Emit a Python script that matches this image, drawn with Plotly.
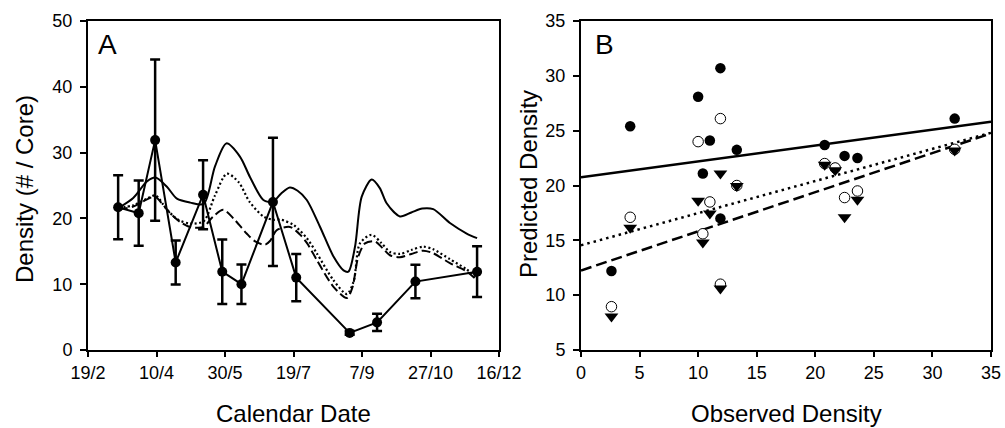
import pandas as pd
import plotly.graph_objects as go

# ---------------- data ----------------
season_start = "2007-02-19"
season_end = "2007-12-16"

# Panel A: observed densities (mean ± SE) on sampling dates
sample_dates = ["2007-03-13", "2007-03-28", "2007-04-09", "2007-04-24", "2007-05-14",
                "2007-05-28", "2007-06-11", "2007-07-04", "2007-07-21", "2007-08-29",
                "2007-09-18", "2007-10-16", "2007-11-30"]
observed = [21.7, 20.8, 31.9, 13.3, 23.6, 11.9, 10.0, 22.5, 11.0, 2.6, 4.2, 10.4, 11.9]
observed_se = [4.85, 4.95, 12.25, 3.35, 5.25, 4.9, 3.0, 9.75, 3.6, 0.3, 1.3, 2.55, 3.85]

# Panel A: model curves (day offset from 19/2, density)
solid_days = [22.4, 33, 43, 49.3, 57.6, 64.9, 74.6, 84.5, 92.7, 101, 110.9, 118.2, 128, 134.8, 141, 147.3,
              153, 159.7, 169.4, 179.2, 186.5, 190.1, 194.9, 199.8, 207.1, 213, 218, 227.7, 236, 244, 252,
              264.2, 276.4, 284]
solid_vals = [21.6, 23.1, 25.6, 26.2, 24.8, 23.0, 22.4, 22.2, 27.9, 31.4, 29.4, 26.3, 22.8, 22.5, 23.8, 24.7,
              24.2, 22.8, 18.7, 14.2, 12.1, 11.9, 15.7, 23.3, 25.9, 24.6, 22.3, 20.3, 20.9, 21.5, 21.4,
              19.3, 17.7, 17.0]

dotted_days = [22.4, 33, 43, 49.3, 57, 65, 74.6, 84.5, 92.7, 101.4, 110, 118, 128, 135, 141, 150,
               159.7, 167, 179.2, 189, 194, 198.5, 207, 214, 220.4, 227.7, 236, 244.7, 252, 264.2, 276, 284]
dotted_vals = [21.6, 22.0, 23.0, 23.5, 21.5, 19.9, 19.2, 19.6, 23.5, 26.8, 25.5, 22.5, 20.3, 19.8, 19.8, 19.0,
               17.0, 14.7, 10.6, 8.5, 10.5, 16.2, 17.5, 16.3, 14.9, 14.6, 15.2, 15.7, 15.3, 13.8, 12.3, 11.0]

dashed_days = [22.4, 33, 43, 49, 55, 60, 67, 74.5, 84.2, 91, 98.8, 107, 115.8, 122, 129.2, 133, 137.7,
               147.4, 155, 160, 167, 179.2, 189, 193, 197.3, 202.2, 209.5, 215, 220.4, 227.7, 236, 244.7,
               252, 264.2, 276, 284]
dashed_vals = [21.4, 21.8, 22.9, 23.3, 22.0, 20.8, 19.5, 18.7, 18.7, 20.2, 21.3, 19.8, 17.7, 16.5, 16.0, 16.6,
               18.2, 18.7, 17.5, 16.2, 13.7, 9.6, 7.9, 9.5, 14.2, 16.2, 16.5, 15.5, 14.4, 14.1, 14.6, 15.1,
               14.7, 13.2, 12.0, 10.6]

# Panel B: predicted density at each sampling date, per model
pred_model1 = [21.6, 23.7, 26.1, 23.25, 22.5, 30.7, 28.1, 22.7, 24.1, 12.2, 25.4, 21.1, 17.0]   # filled circles
pred_model2 = [21.6, 22.0, 23.3, 20.0, 19.5, 26.1, 24.0, 18.9, 18.5, 8.95, 17.1, 15.6, 11.0]   # open circles
pred_model3 = [21.4, 21.9, 23.2, 19.95, 18.7, 21.1, 18.6, 17.1, 17.45, 8.05, 16.15, 14.8, 10.6]  # triangles

fit_x = [0, 35]
fit_intercepts = [20.75, 14.55, 12.25]
fit_slopes = [0.145, 0.293, 0.357]


def to_dates(days):
    return pd.Timestamp(season_start) + pd.to_timedelta(days, unit="D")


# ---------------- figure ----------------
W, H = 1005, 428
FONT = "Liberation Sans, Arial, sans-serif"
fig = go.Figure()

# Panel A: model curves
curve_defs = [(solid_days, solid_vals, dict(color="black", width=2, dash="solid")),
              (dotted_days, dotted_vals, dict(color="black", width=2.2, dash="2px,2.5px")),
              (dashed_days, dashed_vals, dict(color="black", width=2, dash="9px,4px"))]
for days, vals, st in curve_defs:
    fig.add_trace(go.Scatter(x=to_dates(days), y=vals, mode="lines",
                             line=dict(shape="spline", smoothing=0.8, **st),
                             xaxis="x", yaxis="y", hoverinfo="skip"))

# Panel A: observed
fig.add_trace(go.Scatter(x=sample_dates, y=observed, mode="lines+markers",
                         line=dict(color="black", width=2),
                         marker=dict(color="black", size=10),
                         error_y=dict(type="data", array=observed_se, color="black", thickness=2.5, width=5),
                         xaxis="x", yaxis="y"))

# Panel B: fit lines
fit_styles = [dict(color="black", width=2.5, dash="solid"),
              dict(color="black", width=2.5, dash="2.5px,4px"),
              dict(color="black", width=2.5, dash="11px,5px")]
for b0, b1, st in zip(fit_intercepts, fit_slopes, fit_styles):
    fig.add_trace(go.Scatter(x=fit_x, y=[b0 + b1 * v for v in fit_x], mode="lines", line=st,
                             xaxis="x2", yaxis="y2", hoverinfo="skip"))

# Panel B: points
fig.add_trace(go.Scatter(x=observed, y=pred_model1, mode="markers",
                         marker=dict(symbol="circle", size=10.5, color="black"), xaxis="x2", yaxis="y2"))
fig.add_trace(go.Scatter(x=observed, y=pred_model2, mode="markers",
                         marker=dict(symbol="circle", size=10.5, color="white", line=dict(color="black", width=1)),
                         xaxis="x2", yaxis="y2"))
fig.add_trace(go.Scatter(x=observed, y=pred_model3, mode="markers",
                         marker=dict(symbol="triangle-down", size=12, color="black"), xaxis="x2", yaxis="y2"))

ydom = [78 / H, 407 / H]
axis_common = dict(showline=True, linecolor="black", linewidth=2, mirror=True, showgrid=False, zeroline=False,
                   ticks="outside", tickcolor="black", tickwidth=1.5, automargin=False,
                   tickfont=dict(family=FONT, size=18, color="black"))

fig.update_layout(
    template="none",
    width=W, height=H, margin=dict(l=0, r=0, t=0, b=0, pad=0),
    paper_bgcolor="white", plot_bgcolor="white", showlegend=False,
    xaxis=dict(domain=[88 / W, 499 / W], type="date", range=[season_start, season_end], tick0=season_start,
               dtick=50 * 86400000, tickformat="%-d/%-m", ticklen=5, anchor="y", **axis_common),
    yaxis=dict(domain=ydom, range=[0, 50], dtick=10, ticklen=6, anchor="x", ticklabelstandoff=4, **axis_common),
    xaxis2=dict(domain=[581 / W, 991 / W], range=[0, 35], dtick=5, ticklen=5, anchor="y2", **axis_common),
    yaxis2=dict(domain=ydom, range=[5, 35], dtick=5, ticklen=6, anchor="x2", ticklabelstandoff=4, **axis_common),
)

title_font = dict(family=FONT, size=24, color="black")
annotations = [
    dict(text="Calendar Date", x=293.5 / W, y=1 - 413 / H, xref="paper", yref="paper",
         showarrow=False, font=title_font, xanchor="center", yanchor="middle"),
    dict(text="Observed Density", x=786 / W, y=1 - 413 / H, xref="paper", yref="paper",
         showarrow=False, font=title_font, xanchor="center", yanchor="middle"),
    dict(text="Density (# / Core)", x=24 / W, y=1 - 189 / H, xref="paper", yref="paper", textangle=-90,
         showarrow=False, font=title_font, xanchor="center", yanchor="middle"),
    dict(text="Predicted Density", x=528 / W, y=1 - 184 / H, xref="paper", yref="paper", textangle=-90,
         showarrow=False, font=title_font, xanchor="center", yanchor="middle"),
    dict(text="A", x=107 / W, y=1 - 44 / H, xref="paper", yref="paper",
         showarrow=False, font=dict(family=FONT, size=28, color="black"), xanchor="center", yanchor="middle"),
    dict(text="B", x=604 / W, y=1 - 44 / H, xref="paper", yref="paper",
         showarrow=False, font=dict(family=FONT, size=28, color="black"), xanchor="center", yanchor="middle"),
]
fig.update_layout(annotations=annotations)

fig.write_html("out.html", config={"displayModeBar": False},
               post_script="document.body.style.margin='0';document.body.style.padding='0';document.body.style.overflow='hidden';")
